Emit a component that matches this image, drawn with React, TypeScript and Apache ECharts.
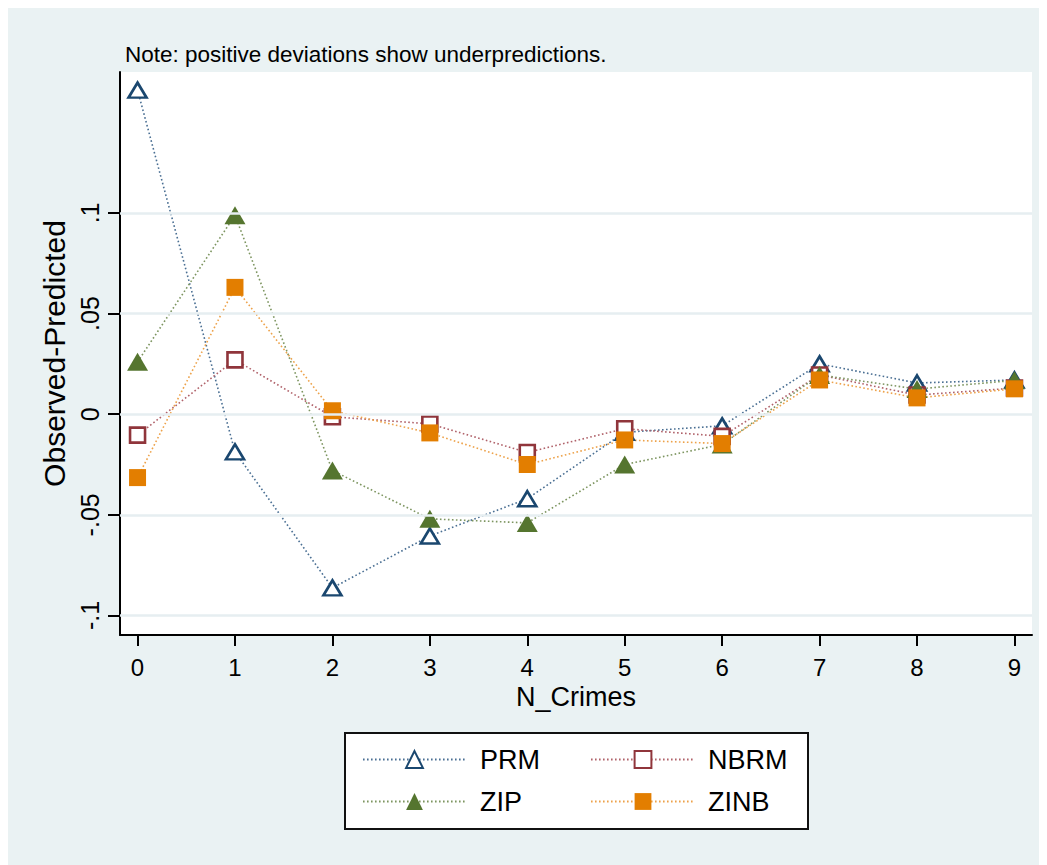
import React, { useEffect, useRef } from "react";
import * as echarts from "echarts";

const xValues = [0, 1, 2, 3, 4, 5, 6, 7, 8, 9];
const prm = [0.161, -0.0187, -0.0863, -0.0605, -0.042, -0.009, -0.0058, 0.025, 0.0155, 0.017];
const nbrm = [-0.0104, 0.027, -0.0013, -0.0048, -0.019, -0.0072, -0.011, 0.0195, 0.0095, 0.013];
const zip = [0.026, 0.0988, -0.028, -0.052, -0.054, -0.025, -0.015, 0.0195, 0.0125, 0.0168];
const zinb = [-0.0315, 0.063, 0.0017, -0.0093, -0.025, -0.0128, -0.0146, 0.017, 0.0081, 0.0126];

const xTicks = [0, 1, 2, 3, 4, 5, 6, 7, 8, 9];
const yTicks = [-0.1, -0.05, 0, 0.05, 0.1];
const yTickLabels = ["-.1", "-.05", "0", ".05", ".1"];

const FONT = "'Liberation Sans', Arial, Helvetica, sans-serif";
const BG = "#eaf2f3";
const dotted = [1.6, 2.4];

export default function App() {
  const ref = useRef<HTMLDivElement>(null);
  useEffect(() => {
    document.documentElement.style.overflow = "hidden";
    document.body.style.overflow = "hidden";
    const chart = echarts.init(ref.current!, null, { renderer: "svg" });
    const pts = (arr: number[]) => xValues.map((x, i) => [x, arr[i]]);
    const mk = (
      name: string,
      arr: number[],
      color: string,
      lineColor: string,
      symbol: string,
      size: number | number[],
      hollow: boolean
    ) => ({
      name,
      type: "line",
      data: pts(arr),
      symbol,
      symbolSize: size,
      showAllSymbol: true,
      lineStyle: { color: lineColor, width: 1.6, type: dotted },
      itemStyle: hollow
        ? { color: "#ffffff", borderColor: color, borderWidth: 2.6 }
        : { color, borderColor: color, borderWidth: 0 },
      emphasis: { disabled: true },
    });
    const legendText = {
      fontSize: 27,
      fontFamily: FONT,
      color: "#000",
      padding: [0, 0, 0, 9],
    };
    chart.setOption({
      animation: false,
      backgroundColor: BG,
      grid: {
        left: 112,
        top: 64,
        width: 912,
        height: 563,
        show: true,
        backgroundColor: "#ffffff",
        borderWidth: 0,
      },
      xAxis: {
        type: "value",
        min: -0.18,
        max: 9.18,
        name: "N_Crimes",
        nameLocation: "middle",
        nameGap: 48,
        nameTextStyle: { fontSize: 27, fontFamily: FONT, color: "#000" },
        axisLine: { show: true, onZero: false, lineStyle: { color: "#000", width: 2 } },
        axisTick: { show: true, length: 11, lineStyle: { color: "#000", width: 2 }, customValues: xTicks },
        axisLabel: { fontSize: 24, fontFamily: FONT, color: "#000", margin: 20, customValues: xTicks },
        splitLine: { show: false },
      },
      yAxis: {
        type: "value",
        min: -0.1097,
        max: 0.17,
        name: "Observed-Predicted",
        nameLocation: "middle",
        nameGap: 49,
        nameTextStyle: { fontSize: 30, fontFamily: FONT, color: "#000" },
        axisLine: { show: true, onZero: false, lineStyle: { color: "#000", width: 2 } },
        axisTick: { show: true, length: 12, lineStyle: { color: "#000", width: 2 }, customValues: yTicks },
        axisLabel: {
          fontSize: 25,
          fontFamily: FONT,
          color: "#000",
          rotate: 90,
          margin: 18,
          customValues: yTicks,
          formatter: (v: number) => {
            const idx = yTicks.findIndex((t) => Math.abs(t - v) < 1e-9);
            return idx >= 0 ? yTickLabels[idx] : "";
          },
        },
        splitLine: { show: false },
      },
      legend: [
        {
          data: ["PRM", "ZIP"],
          orient: "vertical",
          left: 349,
          top: 733,
          itemWidth: 103,
          itemHeight: 21,
          itemGap: 15,
          textStyle: legendText,
          selectedMode: false,
        },
        {
          data: ["NBRM", "ZINB"],
          orient: "vertical",
          left: 577,
          top: 733,
          itemWidth: 104,
          itemHeight: 21,
          itemGap: 15,
          textStyle: { ...legendText, padding: [0, 0, 0, 8] },
          selectedMode: false,
        },
      ],
      graphic: [
        {
          type: "text",
          left: 117,
          top: 35,
          style: {
            text: "Note: positive deviations show underpredictions.",
            fontSize: 22.5,
            fontFamily: FONT,
            fill: "#000",
          },
        },
        {
          type: "rect",
          shape: { x: 337, y: 725, width: 463, height: 96 },
          style: { fill: "#ffffff", stroke: "#111", lineWidth: 2 },
          z: -1,
        },
      ],
      series: [
        {
          name: "grid",
          type: "line",
          data: [],
          silent: true,
          markLine: {
            silent: true,
            symbol: "none",
            label: { show: false },
            lineStyle: { color: "#e6eef1", width: 2.5, type: "solid" },
            data: yTicks.map((v) => ({ yAxis: v })),
          },
        },
        mk("PRM", prm, "#1a476f", "#4a6f93", "triangle", [18, 15], true),
        mk("NBRM", nbrm, "#90353b", "#b0626a", "rect", [15, 15], true),
        mk("ZIP", zip, "#55752f", "#7d9560", "triangle", [21, 18], false),
        mk("ZINB", zinb, "#e37e00", "#eda24a", "rect", [17, 17], false),
      ],
    });
    return () => chart.dispose();
  }, []);
  return <div ref={ref} style={{ width: 1039, height: 857 }} />;
}
